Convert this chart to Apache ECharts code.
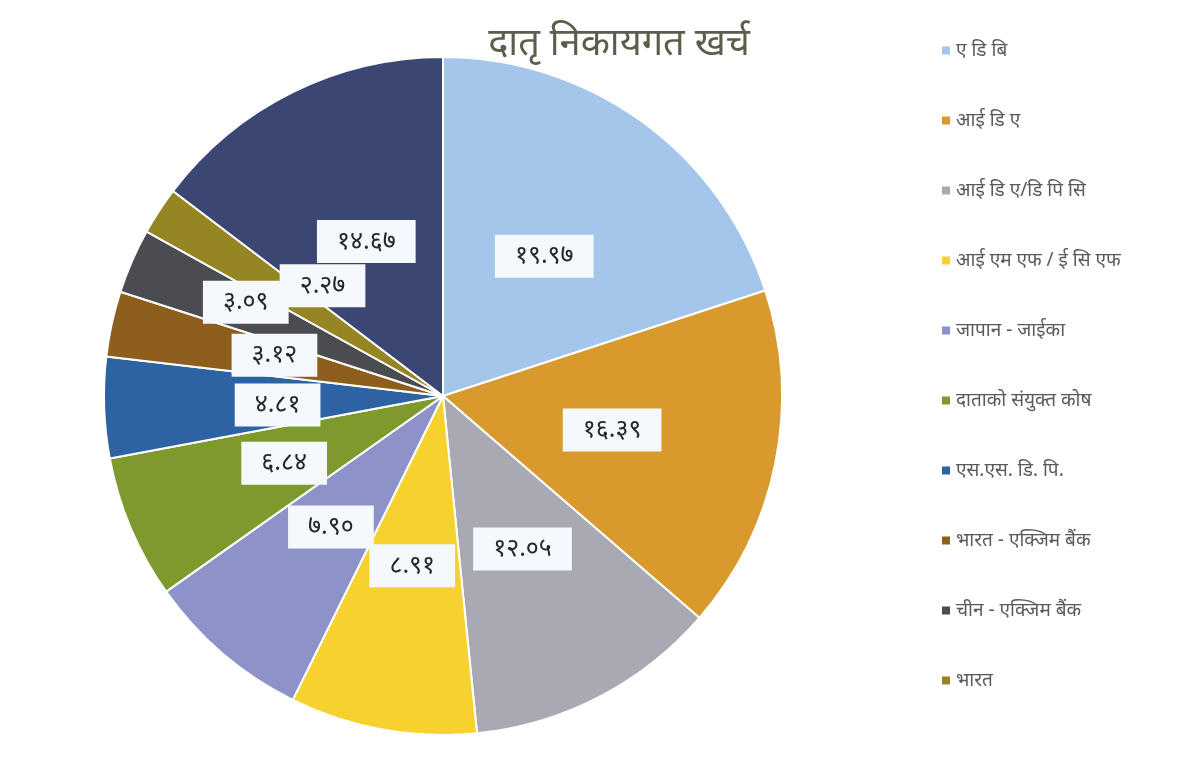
<!DOCTYPE html>
<html>
<head>
<meta charset="utf-8">
<title>दातृ निकायगत खर्च</title>
<script src="https://cdn.jsdelivr.net/npm/echarts@6/dist/echarts.min.js"></script>
<style>
  html, body { margin: 0; padding: 0; background: #fff; }
  #chart { width: 1200px; height: 764px; }
</style>
</head>
<body>
<div id="chart"></div>
<script>
// donors (last slice is not listed in the legend of the original)
const donors = [
  'ए डि बि',
  'आई डि ए',
  'आई डि ए/डि पि सि',
  'आई एम एफ / ई सि एफ',
  'जापान - जाईका',
  'दाताको संयुक्त कोष',
  'एस.एस. डि. पि.',
  'भारत - एक्जिम बैंक',
  'चीन - एक्जिम बैंक',
  'भारत',
  'अन्य'
]
const shares = [19.97, 16.39, 12.05, 8.91, 7.90, 6.84, 4.81, 3.12, 3.09, 2.27, 14.67]
// labels as printed (Devanagari digits)
const shareLabels = ['१९.९७', '१६.३९', '१२.०५', '८.९१', '७.९०', '६.८४', '४.८१', '३.१२', '३.०९', '२.२७', '१४.६७']

const colors = ['#a3c6ea', '#d89a2c', '#a9a9b3', '#f7d12e', '#8d93c9', '#7f9a2c',
  '#2d63a3', '#8e5f1c', '#4b4b52', '#958523', '#3c4672']

// nudge the crowded small-slice labels apart like in the original
const labelShift = {
  'एस.एस. डि. पि.': [7, 3],
  'भारत - एक्जिम बैंक': [0, -4],
  'चीन - एक्जिम बैंक': [-39, -25],
  'भारत': [24, -16]
}

const chart = echarts.init(document.getElementById('chart'))

chart.setOption({
  color: colors,
  animation: false,
  title: {
    text: 'दातृ निकायगत खर्च',
    left: 614,
    top: 20,
    textAlign: 'center',
    textStyle: {
      fontFamily: 'Noto Sans, sans-serif',
      fontSize: 38,
      fontWeight: 'normal',
      color: '#5c5e4c'
    }
  },
  legend: {
    orient: 'vertical',
    left: 935,
    top: 36,
    icon: 'rect',
    itemWidth: 10,
    itemHeight: 10,
    itemGap: 51,
    data: donors.slice(0, 10),
    textStyle: {
      fontFamily: 'Noto Sans, sans-serif',
      fontSize: 19,
      color: '#5a5a5a'
    }
  },
  series: [{
    type: 'pie',
    center: [443, 396],
    radius: 339,
    startAngle: 90,
    clockwise: true,
    avoidLabelOverlap: false,
    labelLayout: { hideOverlap: false },
    itemStyle: {
      borderColor: '#fff',
      borderWidth: 2
    },
    label: {
      show: true,
      position: 'inside',
      fontFamily: 'Noto Sans, sans-serif',
      fontSize: 25,
      color: '#262626',
      backgroundColor: '#f5f9fd',
      padding: [9, 20, 9, 20]
    },
    labelLine: { show: false },
    emphasis: { disabled: true },
    data: donors.map((name, i) => ({
      name: name,
      value: shares[i],
      label: {
        formatter: shareLabels[i],
        offset: labelShift[name] || [0, 0]
      }
    }))
  }]
})
</script>
</body>
</html>
